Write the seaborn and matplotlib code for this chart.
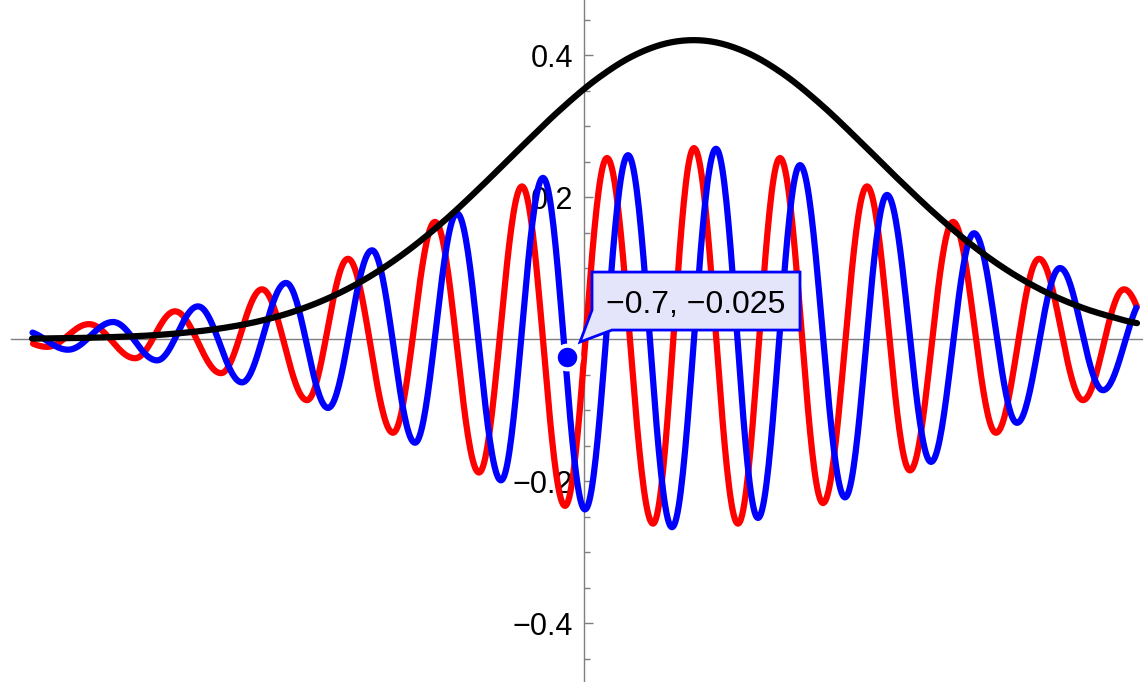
import numpy as np
import pandas as pd
import seaborn as sns
import matplotlib.pyplot as plt
from matplotlib import transforms
from matplotlib.patches import Polygon

# values
# red curve: start, turning points (peak / trough) and end, plus one point beyond each end
red_x = [-23.2, -21.48, -19.8, -17.96, -16.36, -14.52, -12.88, -11.08, -9.44, -7.64,
         -5.96, -4.2, -2.48, -0.76, 0.92, 2.76, 4.4, 6.16, 7.84, 9.56,
         11.32, 13.04, 14.76, 16.48, 18.2, 19.96, 21.6, 23.32]
red_y = [0.008, -0.011, 0.021, -0.027, 0.039, -0.048, 0.070, -0.086, 0.113, -0.132,
         0.165, -0.188, 0.215, -0.235, 0.255, -0.260, 0.269, -0.260, 0.255, -0.231,
         0.215, -0.185, 0.165, -0.132, 0.113, -0.086, 0.070, -0.050]

# blue curve turning points
blue_x = [-22.36, -20.64, -18.84, -17.08, -15.44, -13.68, -11.92, -10.24, -8.48, -6.76,
          -5.08, -3.32, -1.64, 0.04, 1.76, 3.52, 5.28, 6.96, 8.64, 10.44,
          12.12, 13.88, 15.6, 17.32, 19.04, 20.76, 22.48]
blue_y = [0.011, -0.015, 0.024, -0.030, 0.046, -0.061, 0.079, -0.097, 0.125, -0.146,
          0.177, -0.199, 0.227, -0.240, 0.259, -0.265, 0.268, -0.252, 0.245, -0.223,
          0.203, -0.173, 0.149, -0.118, 0.100, -0.072, 0.060]

# black bell curve
black_x = [-22.08, -20.5, -19.0, -17.5, -16.0, -14.5, -13.0, -11.5, -10.0, -8.5,
           -7.0, -5.5, -4.0, -2.5, -1.0, 0.5, 2.0, 3.5, 5.0, 6.5,
           8.0, 9.5, 11.0, 12.5, 14.0, 15.5, 17.0, 18.5, 20.0, 21.5, 22.12]
black_y = [0.0006, 0.0013, 0.0026, 0.0048, 0.0088, 0.0152, 0.0251, 0.0400, 0.0612, 0.0896,
           0.1258, 0.1693, 0.2187, 0.2707, 0.3214, 0.3659, 0.3994, 0.4180, 0.4195, 0.4037,
           0.3726, 0.3297, 0.2797, 0.2276, 0.1777, 0.1328, 0.0953, 0.0656, 0.0433, 0.0274, 0.0224]

x_start, x_end = -22.08, 22.12
point_x, point_y = -0.7, -0.025
point_label = "\u22120.7, \u22120.025"
y_major = [-0.4, -0.2, 0.2, 0.4]
y_minor = [-0.45, -0.35, -0.3, -0.25, -0.15, -0.1, -0.05,
           0.05, 0.1, 0.15, 0.25, 0.3, 0.35, 0.45]


def wave_line(xe, ye, n=40):
    # half a cosine between each pair of neighbouring turning points
    xs, ys = [], []
    for i in range(len(xe) - 1):
        t = np.linspace(0, 1, n, endpoint=False)
        a, b = ye[i], ye[i + 1]
        xs.append(xe[i] + t * (xe[i + 1] - xe[i]))
        ys.append((a + b) / 2 + (a - b) / 2 * np.cos(np.pi * t))
    xs, ys = np.concatenate(xs), np.concatenate(ys)
    keep = (xs >= x_start) & (xs <= x_end)
    return pd.DataFrame({'x': xs[keep], 'y': ys[keep]})


def smooth_line(x, y, n=20):
    # catmull-rom through the read points
    x, y = np.asarray(x, float), np.asarray(y, float)
    px = np.concatenate([[2 * x[0] - x[1]], x, [2 * x[-1] - x[-2]]])
    py = np.concatenate([[2 * y[0] - y[1]], y, [2 * y[-1] - y[-2]]])
    xs, ys = [], []
    t = np.linspace(0, 1, n, endpoint=False)
    for i in range(1, len(px) - 2):
        for p, out in ((px, xs), (py, ys)):
            p0, p1, p2, p3 = p[i - 1], p[i], p[i + 1], p[i + 2]
            out.append(0.5 * (2 * p1 + (-p0 + p2) * t + (2 * p0 - 5 * p1 + 4 * p2 - p3) * t ** 2
                              + (-p0 + 3 * p1 - 3 * p2 + p3) * t ** 3))
    xs.append([x[-1]])
    ys.append([y[-1]])
    return pd.DataFrame({'x': np.concatenate(xs), 'y': np.concatenate(ys)})


red_df = wave_line(red_x, red_y)
blue_df = wave_line(blue_x, blue_y)
black_df = smooth_line(black_x, black_y)

sns.set_style('white')
plt.rcParams['font.family'] = ['Liberation Sans', 'DejaVu Sans']

fig = plt.figure(figsize=(11.43, 6.82), dpi=100)
ax = fig.add_axes([0, 0, 1, 1])

lw = 4.5
sns.lineplot(data=red_df, x='x', y='y', color='#FF0000', lw=lw, sort=False, estimator=None, ax=ax, zorder=3)
sns.lineplot(data=blue_df, x='x', y='y', color='#0000FF', lw=lw, sort=False, estimator=None, ax=ax, zorder=4)
sns.lineplot(data=black_df, x='x', y='y', color='black', lw=lw, sort=False, estimator=None, ax=ax, zorder=5)

ax.set_xlim(-23.36, 22.36)
ax.set_ylim(-0.483, 0.4775)
ax.set_xlabel('')
ax.set_ylabel('')

axis_grey = '#7f7f7f'
for side in ['top', 'right']:
    ax.spines[side].set_visible(False)
ax.spines['left'].set_position(('data', 0))
ax.spines['bottom'].set_position(('data', 0))
ax.spines['bottom'].set_bounds(-22.92, 22.36)
for side in ['left', 'bottom']:
    ax.spines[side].set_color(axis_grey)
    ax.spines[side].set_linewidth(1.0)
    ax.spines[side].set_zorder(2)

ax.set_xticks([])
ax.set_yticks(y_major)
ax.set_yticklabels([f'{v:.1f}'.replace('-', '\u2212') for v in y_major])
ax.set_yticks(y_minor, minor=True)
ax.tick_params(axis='y', which='major', left=True, direction='in', length=6.5, width=1,
               color=axis_grey, labelsize=22, pad=8, labelcolor='black')
ax.tick_params(axis='y', which='minor', left=True, direction='in', length=4, width=1,
               color=axis_grey)

# tooltip point on the blue curve
ax.plot([point_x], [point_y], 'o', ms=17, mfc='#0000FF', mec='white', mew=3, zorder=6)

# callout box, shape given in inches relative to the point
anchor = fig.dpi_scale_trans + transforms.ScaledTranslation(point_x, point_y, ax.transData)
callout = np.array([[25.5, 84.75], [233.5, 84.75], [233.5, 26.75], [45.5, 26.75],
                    [13.5, 14.75], [25.5, 46.75]]) / 100
ax.add_patch(Polygon(callout, closed=True, transform=anchor, facecolor='#E4E4FA',
                     edgecolor='#0000FF', lw=2.0, zorder=7, clip_on=False))
ax.text(1.295, 0.5575, point_label, transform=anchor, ha='center', va='center_baseline',
        fontsize=23, color='black', zorder=8)

plt.savefig('out.png', dpi=100)
